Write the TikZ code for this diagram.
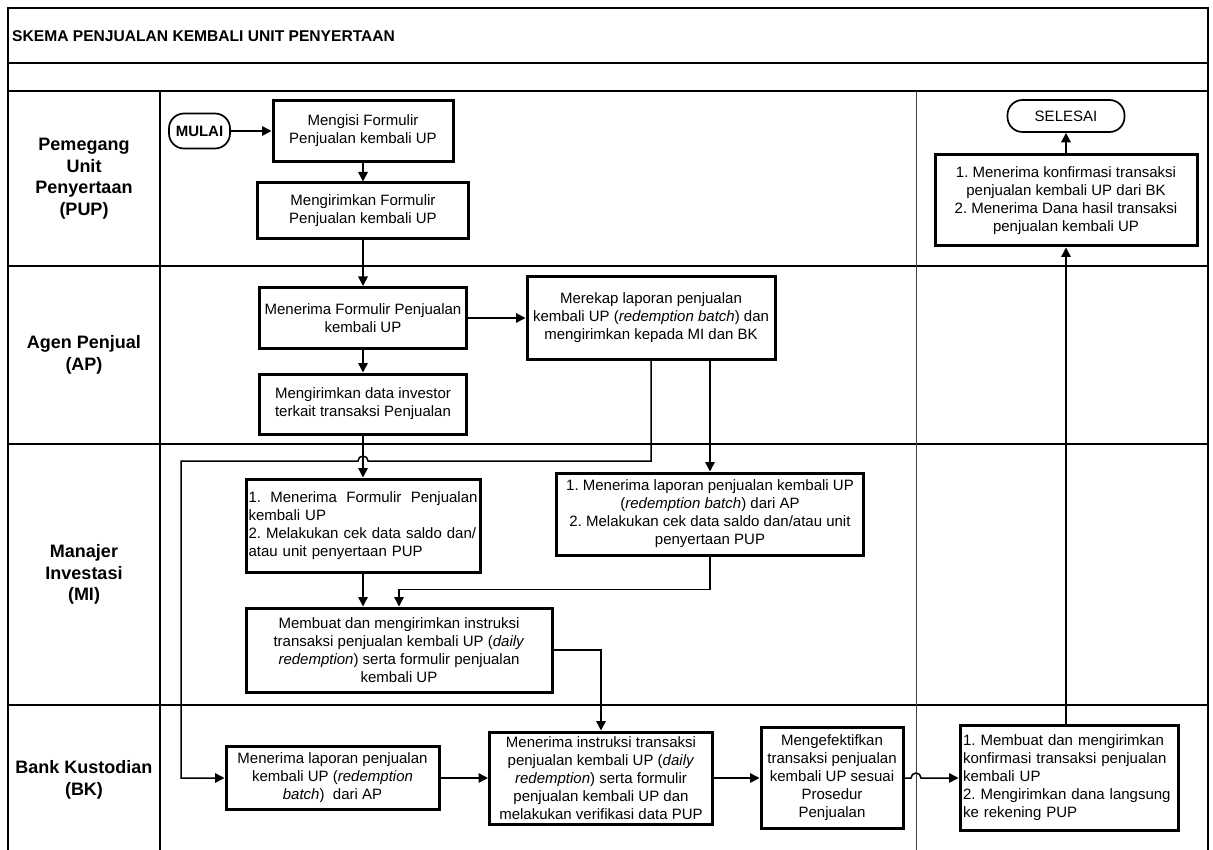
\documentclass[tikz,border=0pt]{standalone}
\usepackage{fontspec}
\setmainfont{Liberation Sans}
\usetikzlibrary{arrows.meta}
\begin{document}
\begin{tikzpicture}[x=1pt,y=-1pt,
  box/.style={draw, line width=3pt, fill=white, inner sep=2pt, align=center, font=\frenchspacing\fontsize{15}{18}\selectfont},
  term/.style={draw, line width=1.7pt, fill=white, rounded corners=15pt, inner sep=0pt, align=center, font=\frenchspacing\fontsize{15}{18}\selectfont},
  lane/.style={line width=1.9pt},
  thinline/.style={line width=0.9pt, black!75},
  conn/.style={line width=1.5pt},
  arr/.style={conn, -{Triangle[length=9.5pt,width=9.5pt]}},
  hdr/.style={align=center, inner sep=0pt, font=\fontsize{18}{21.5}\selectfont\bfseries}
]
\useasboundingbox (0,0) rectangle (1213,850);
% frame and lanes
\draw[lane] (8,850) -- (8,8) -- (1208,8) -- (1208,850);
\foreach \yy in {63,91,266,444,705} \draw[lane] (8,\yy) -- (1208,\yy);
\draw[lane] (160,91) -- (160,850);
\draw[thinline] (916,91) -- (916,850);

\node[anchor=west, inner sep=0pt, font=\fontsize{15.6}{18}\selectfont\bfseries] (title) at (12,36) {SKEMA PENJUALAN KEMBALI UNIT PENYERTAAN};

\node[hdr] (hPUP) at (84,178.5) {Pemegang\\Unit\\Penyertaan\\(PUP)};
\node[hdr] (hAP) at (84,355) {Agen Penjual\\(AP)};
\node[hdr] (hMI) at (84,574.5) {Manajer\\Investasi\\(MI)};
\node[hdr] (hBK) at (84,780) {Bank Kustodian\\(BK)};

% PUP lane
\node[term, minimum width=61pt, minimum height=35pt, font=\fontsize{15}{18}\selectfont\bfseries] (mulai) at (199.5,131) {MULAI};
\node[box, minimum width=180pt, minimum height=61pt] (A1) at (363,131) {Mengisi Formulir\\Penjualan kembali UP};
\node[box, minimum width=211pt, minimum height=56pt] (A2) at (363,211) {Mengirimkan Formulir\\Penjualan kembali UP};
\node[term, minimum width=117pt, minimum height=32pt] (sel) at (1066,116) {SELESAI};
\node[box, minimum width=262pt, minimum height=91pt] (D) at (1066,200.5) {1. Menerima konfirmasi transaksi\\penjualan kembali UP dari BK\\2. Menerima Dana hasil transaksi\\penjualan kembali UP};

% AP lane
\node[box, minimum width=207pt, minimum height=61pt] (B1) at (363,318) {Menerima Formulir Penjualan\\kembali UP};
\node[box, minimum width=207pt, minimum height=60pt] (B2) at (363,404) {Mengirimkan data investor\\terkait transaksi Penjualan};
\node[box, minimum width=248pt, minimum height=82pt] (B3) at (651,318) {Merekap laporan penjualan\\kembali UP (\textit{redemption batch}) dan\\mengirimkan kepada MI dan BK};

% MI lane
\node[box, minimum width=234pt, minimum height=93pt, inner sep=1pt, text width=229pt, align=left] (C1) at (363,525.5) {\hbox to 229pt{1.\hfill Menerima\hfill Formulir\hfill Penjualan}\\kembali UP\\2. Melakukan cek data saldo dan/\\atau unit penyertaan PUP};
\node[box, minimum width=307pt, minimum height=82pt] (C2) at (710,514) {1. Menerima laporan penjualan kembali UP\\(\textit{redemption batch}) dari AP\\2. Melakukan cek data saldo dan/atau unit\\penyertaan PUP};
\node[box, minimum width=306pt, minimum height=84pt] (C3) at (399,650) {Membuat dan mengirimkan instruksi\\transaksi penjualan kembali UP (\textit{daily}\\\textit{redemption}) serta formulir penjualan\\kembali UP};

% BK lane
\node[box, minimum width=213pt, minimum height=63pt] (E1) at (332.5,778) {Menerima laporan penjualan\\kembali UP (\textit{redemption}\\\textit{batch})\ \ dari AP};
\node[box, minimum width=223pt, minimum height=92pt] (E2) at (601,778) {Menerima instruksi transaksi\\penjualan kembali UP (\textit{daily}\\\textit{redemption}) serta formulir\\penjualan kembali UP dan\\melakukan verifikasi data PUP};
\node[box, minimum width=142pt, minimum height=101pt] (E3) at (832,778) {Mengefektifkan\\transaksi penjualan\\kembali UP sesuai\\Prosedur\\Penjualan};
\node[box, minimum width=218pt, minimum height=105pt, text width=212pt, align=left] (E4) at (1069,778) {1. Membuat dan mengirimkan\\konfirmasi transaksi penjualan\\kembali UP\\2. Mengirimkan dana langsung\\ke rekening PUP};

% connectors
\draw[arr] (mulai.east) -- (A1.west);
\draw[arr] (A1.south) -- (A2.north);
\draw[arr] (A2.south) -- (B1.north);
\draw[arr] (B1.south) -- (B2.north);
\draw[arr] (B1.east) -- (B3.west);
\draw[arr] (B2.south) -- (C1.north);
\draw[arr] (B3.south) -- (651,461) -- (368,461) arc[start angle=0, end angle=180, radius=5pt] -- (181,461) |- (E1.west);
\draw[arr] (C2.north |- B3.south) -- (C2.north);
\draw[arr] (C1.south) -- (C1.south |- C3.north);
\draw[arr] (C2.south) -- ++(0,33) -| (C3.north);
\draw[arr] (C3.east) -| (E2.north);
\draw[arr] (E1.east) -- (E2.west);
\draw[arr] (E2.east) -- (E3.west);
\draw[arr] (E3.east) -- (911,778) arc[start angle=180, end angle=0, radius=5pt] -- (E4.west);
\draw[arr] (E4.north -| D.south) -- (D.south);
\draw[arr] (D.north) -- (sel.south);
\end{tikzpicture}
\end{document}
